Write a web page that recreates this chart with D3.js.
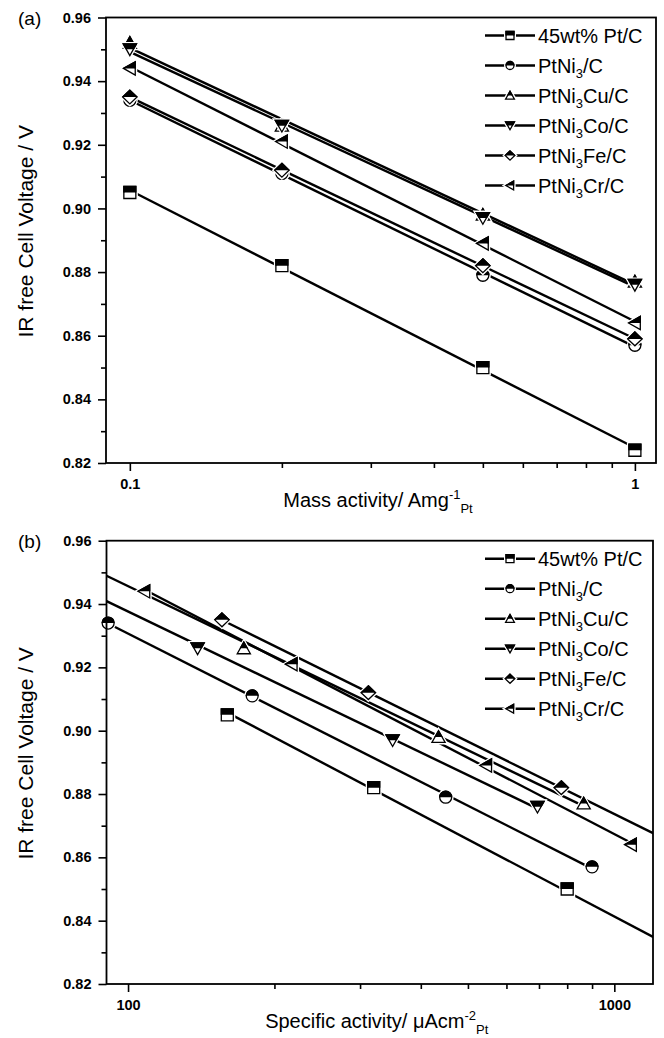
<!DOCTYPE html>
<html>
<head>
<meta charset="utf-8">
<script src="https://cdn.jsdelivr.net/npm/d3@7"></script>
<style>
  body { margin: 0; background: #fff; }
  svg { display: block; font-family: "Liberation Sans", Arial, sans-serif; }
</style>
</head>
<body>
<svg id="fig" width="664" height="1038"></svg>
<script>
// ---- catalyst series -------------------------------------------------------
// label parts: [before, subscript, after]
const seriesLabels = [
  ["45wt% Pt/C"],
  ["PtNi", "3", "/C"],
  ["PtNi", "3", "Cu/C"],
  ["PtNi", "3", "Co/C"],
  ["PtNi", "3", "Fe/C"],
  ["PtNi", "3", "Cr/C"]
];
const seriesSymbols = ["square", "circle", "triUp", "triDown", "diamond", "triLeft"];

// mass activity (A mg^-1 Pt) at which the voltages were taken
const massActivity = [0.1, 0.2, 0.5, 1];

// IR-free cell voltage (V) of each catalyst at those activities
const voltPtC = [0.905, 0.882, 0.850, 0.824];
const voltNi  = [0.934, 0.911, 0.879, 0.857];
const voltCu  = [0.952, 0.926, 0.898, 0.877];
const voltCo  = [0.950, 0.926, 0.897, 0.876];
const voltFe  = [0.935, 0.912, 0.882, 0.859];
const voltCr  = [0.944, 0.921, 0.889, 0.864];

// specific activity (uA cm^-2 Pt) at the same voltages
const specPtC = [160, 320, 800, 1600];
const specNi  = [91, 180, 450, 900];
const specCu  = [86, 173, 435, 865];
const specCo  = [70, 139, 350, 695];
const specFe  = [156, 312, 778, 1560];
const specCr  = [108, 217, 545, 1082];

// ---- axis ticks --------------------------------------------------------------
const voltTicks      = [0.82, 0.84, 0.86, 0.88, 0.90, 0.92, 0.94, 0.96];
const voltMinorTicks = [0.83, 0.85, 0.87, 0.89, 0.91, 0.93, 0.95];
const massTicks      = [0.1, 1];
const massTickLabels = ["0.1", "1"];
const massMinorTicks = [0.2, 0.3, 0.4, 0.5, 0.6, 0.7, 0.8, 0.9];
const specTicks      = [100, 1000];
const specTickLabels = ["100", "1000"];
const specMinorTicks = [200, 300, 400, 500, 600, 700, 800, 900];

const voltSeries = [voltPtC, voltNi, voltCu, voltCo, voltFe, voltCr];
const specSeries = [specPtC, specNi, specCu, specCo, specFe, specCr];

// ---- drawing ----------------------------------------------------------------
const svg = d3.select("#fig");
const defs = svg.append("defs");

// upper-half clip used for the half-filled symbols (in symbol-local space)
defs.append("clipPath").attr("id", "topHalf")
  .append("rect").attr("x", -20).attr("y", -20).attr("width", 40).attr("height", 20);

function symbolPath(type, r) {
  switch (type) {
    case "square":
      return `M${-r},${-r}H${r}V${r}H${-r}Z`;
    case "circle":
      return `M${r},0A${r},${r} 0 1,1 ${-r},0A${r},${r} 0 1,1 ${r},0Z`;
    case "triUp":
      return `M0,${-1.05 * r}L${1.1 * r},${0.9 * r}L${-1.1 * r},${0.9 * r}Z`;
    case "triDown":
      return `M0,${1.05 * r}L${1.1 * r},${-0.9 * r}L${-1.1 * r},${-0.9 * r}Z`;
    case "diamond":
      return `M0,${-1.15 * r}L${1.2 * r},0L0,${1.15 * r}L${-1.2 * r},0Z`;
    case "triLeft":
      return `M${-1.05 * r},0L${0.9 * r},${-1.1 * r}L${0.9 * r},${1.1 * r}Z`;
  }
}

function drawSymbol(parent, type, cx, cy, r) {
  const g = parent.append("g").attr("transform", `translate(${cx},${cy})`);
  const d = symbolPath(type, r);
  g.append("path").attr("d", d).attr("fill", "#fff").attr("stroke", "#fff").attr("stroke-width", 4);
  g.append("path").attr("d", d).attr("fill", "#fff").attr("stroke", "#000").attr("stroke-width", 1.3);
  g.append("path").attr("d", d).attr("fill", "#000").attr("stroke", "#000").attr("stroke-width", 1.3)
    .attr("clip-path", "url(#topHalf)");
}

function addLabel(textSel, parts, size) {
  textSel.append("tspan").text(parts[0]);
  if (parts.length > 1) {
    textSel.append("tspan").attr("font-size", size * 0.65).attr("dy", size * 0.27).text(parts[1]);
    textSel.append("tspan").attr("dy", -size * 0.27).text(parts[2]);
  }
}

// least-squares line of voltage against log10(activity)
function logFit(xs, ys) {
  const lx = xs.map(Math.log10);
  const mx = d3.mean(lx), my = d3.mean(ys);
  let sxy = 0, sxx = 0;
  lx.forEach((v, i) => { sxy += (v - mx) * (ys[i] - my); sxx += (v - mx) * (v - mx); });
  const slope = sxy / sxx;
  return x => my + slope * (Math.log10(x) - mx);
}

function drawPanel(cfg) {
  const { left, right, top, bottom, xDomain, id } = cfg;
  const x = d3.scaleLog().domain(xDomain).range([left, right]);
  const y = d3.scaleLinear().domain([0.82, 0.96]).range([bottom, top]);
  const g = svg.append("g");

  defs.append("clipPath").attr("id", "plotClip" + id)
    .append("rect").attr("x", left).attr("y", top).attr("width", right - left).attr("height", bottom - top);

  // axes: minor ticks first, then major ticks with labels
  const yMinor = g.append("g").attr("transform", `translate(${left},0)`)
    .call(d3.axisLeft(y).tickValues(voltMinorTicks).tickSize(5).tickFormat(""));
  const yMajor = g.append("g").attr("transform", `translate(${left},0)`)
    .call(d3.axisLeft(y).tickValues(voltTicks).tickSize(8).tickPadding(7).tickFormat(d3.format(".2f")));
  const xMinor = g.append("g").attr("transform", `translate(0,${bottom})`)
    .call(d3.axisBottom(x).tickValues(cfg.minorTicks).tickSize(5).tickFormat(""));
  const xMajor = g.append("g").attr("transform", `translate(0,${bottom})`)
    .call(d3.axisBottom(x).tickValues(cfg.majorTicks).tickSize(8).tickPadding(8)
      .tickFormat((d, i) => cfg.majorLabels[i]));
  [yMinor, yMajor, xMinor, xMajor].forEach(a => {
    a.select(".domain").remove();
    a.selectAll("line").attr("stroke", "#000").attr("stroke-width", 1.6);
    a.selectAll("text").attr("fill", "#000").attr("font-size", 14.5).attr("font-weight", "bold")
      .attr("font-family", '"Liberation Sans", Arial, sans-serif');
  });

  // fitted lines
  const lines = g.append("g").attr("clip-path", `url(#plotClip${id})`);
  const line = d3.line().x(d => x(d[0])).y(d => y(d[1]));
  cfg.xs.forEach((xs, i) => {
    const f = logFit(xs, cfg.ys[i]);
    const x0 = d3.min(xs), x1 = d3.max(xs);
    lines.append("path").datum([[x0, f(x0)], [x1, f(x1)]])
      .attr("d", line).attr("fill", "none").attr("stroke", "#000").attr("stroke-width", 2.4);
  });

  // data symbols (only those inside the axis range)
  const marks = g.append("g");
  cfg.xs.forEach((xs, i) => {
    xs.forEach((xv, j) => {
      if (xv < xDomain[0] || xv > xDomain[1]) return;
      drawSymbol(marks, seriesSymbols[i], x(xv), y(cfg.ys[i][j]), 6);
    });
  });

  // frame
  g.append("rect").attr("x", left).attr("y", top).attr("width", right - left).attr("height", bottom - top)
    .attr("fill", "none").attr("stroke", "#000").attr("stroke-width", 1.8);

  // legend
  const lg = g.append("g");
  seriesLabels.forEach((parts, i) => {
    const base = top + 25 + i * 30;
    const cy = base - 7;
    lg.append("line").attr("x1", 485).attr("x2", 535).attr("y1", cy).attr("y2", cy)
      .attr("stroke", "#000").attr("stroke-width", 2.6);
    drawSymbol(lg, seriesSymbols[i], 510, cy, 4);
    const t = lg.append("text").attr("x", 538).attr("y", base).attr("font-size", 20).attr("fill", "#000");
    addLabel(t, parts, 20);
  });

  // axis titles
  g.append("text").attr("transform", `translate(33,${(top + bottom) / 2 - 9}) rotate(-90)`)
    .attr("text-anchor", "middle").attr("font-size", 21).attr("fill", "#000")
    .text("IR free Cell Voltage / V");

  const xt = g.append("text").attr("x", (left + right) / 2 - 3).attr("y", bottom + 44)
    .attr("text-anchor", "middle").attr("font-size", 20).attr("fill", "#000");
  xt.append("tspan").text(cfg.xTitle[0]);
  xt.append("tspan").attr("font-size", 13).attr("dy", -8).text(cfg.xTitle[1]);
  xt.append("tspan").attr("font-size", 13).attr("dy", 14).text(cfg.xTitle[2]);

  // panel letter
  g.append("text").attr("x", 18).attr("y", top + 7).attr("font-size", 19).attr("fill", "#000")
    .text(cfg.letter);
}

drawPanel({
  id: "A", letter: "(a)",
  left: 106, right: 656, top: 17.5, bottom: 463,
  xDomain: [0.0897, 1.101],
  majorTicks: massTicks, majorLabels: massTickLabels, minorTicks: massMinorTicks,
  xs: voltSeries.map(() => massActivity), ys: voltSeries,
  xTitle: ["Mass activity/ Amg", "-1", "Pt"]
});

drawPanel({
  id: "B", letter: "(b)",
  left: 106.5, right: 653, top: 540.7, bottom: 984,
  xDomain: [90.3, 1201],
  majorTicks: specTicks, majorLabels: specTickLabels, minorTicks: specMinorTicks,
  xs: specSeries, ys: voltSeries,
  xTitle: ["Specific activity/ \u03bcAcm", "-2", "Pt"]
});
</script>
</body>
</html>
